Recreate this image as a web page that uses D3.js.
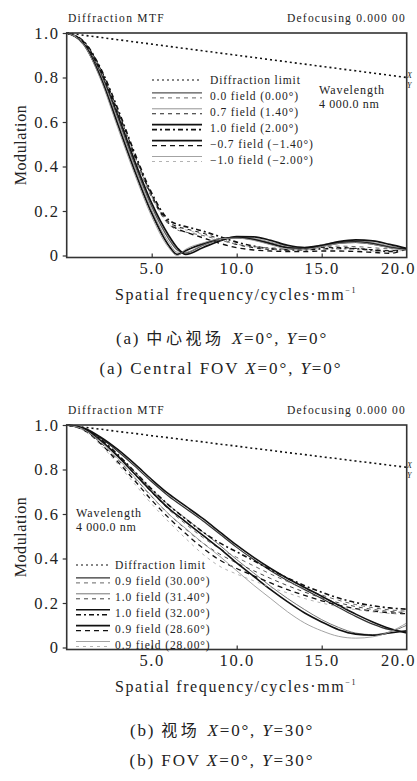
<!DOCTYPE html>
<meta charset="utf-8">
<script src="https://cdn.jsdelivr.net/npm/d3@7"></script>
<style>
body { margin: 0; background: #fff; }
svg text { font-family: "Liberation Serif", "DejaVu Serif", serif; fill: #222; }
.cjk { font-family: "Noto Sans CJK SC", sans-serif; }
.curve { fill: none; }
</style>
<div id="chart"></div>
<script>

// x ticks / y ticks shared by both panels
var xTicks = [5, 10, 15, 20];
var yTicks = [0, 0.2, 0.4, 0.6, 0.8, 1.0];
var yTickLabels = ["0", "0.2", "0.4", "0.6", "0.8", "1.0"];

// ---- panel (a): central FOV ----
var freqA = [0, 1, 2, 3, 4, 5, 6, 6.5, 7, 8, 9, 10, 11, 12, 13, 14, 15, 16, 17, 18, 19, 20];
var diffA = [1.0, 0.99, 0.98, 0.97, 0.96, 0.95, 0.94, 0.935, 0.93, 0.92, 0.91, 0.90, 0.89, 0.88, 0.87, 0.86, 0.85, 0.84, 0.83, 0.82, 0.81, 0.80];
var a_t00  = [1.0, 0.955, 0.82, 0.62, 0.41, 0.22, 0.075, 0.025, 0.012, 0.045, 0.07, 0.08, 0.074, 0.056, 0.038, 0.034, 0.046, 0.06, 0.064, 0.056, 0.04, 0.028];
var a_s00  = [1.0, 0.958, 0.83, 0.64, 0.44, 0.26, 0.14, 0.115, 0.105, 0.09, 0.07, 0.05, 0.04, 0.034, 0.033, 0.036, 0.04, 0.042, 0.04, 0.035, 0.03, 0.032];
var a_t07  = [1.0, 0.952, 0.81, 0.605, 0.395, 0.205, 0.06, 0.015, 0.015, 0.048, 0.072, 0.082, 0.077, 0.06, 0.042, 0.036, 0.048, 0.062, 0.066, 0.058, 0.042, 0.03];
var a_s07  = [1.0, 0.96, 0.835, 0.65, 0.45, 0.27, 0.15, 0.13, 0.12, 0.1, 0.075, 0.05, 0.035, 0.028, 0.028, 0.032, 0.036, 0.036, 0.032, 0.026, 0.022, 0.03];
var a_t10  = [1.0, 0.958, 0.83, 0.635, 0.425, 0.235, 0.09, 0.035, 0.005, 0.035, 0.065, 0.085, 0.084, 0.068, 0.046, 0.036, 0.045, 0.062, 0.07, 0.066, 0.05, 0.032];
var a_s10  = [1.0, 0.962, 0.84, 0.66, 0.46, 0.28, 0.16, 0.14, 0.13, 0.11, 0.085, 0.06, 0.042, 0.03, 0.025, 0.026, 0.03, 0.032, 0.03, 0.024, 0.018, 0.03];
var a_tm07 = [1.0, 0.95, 0.8, 0.59, 0.38, 0.19, 0.045, 0.005, 0.022, 0.052, 0.074, 0.08, 0.072, 0.052, 0.034, 0.03, 0.042, 0.056, 0.06, 0.052, 0.036, 0.026];
var a_sm07 = [1.0, 0.96, 0.835, 0.65, 0.45, 0.27, 0.145, 0.12, 0.105, 0.08, 0.055, 0.035, 0.025, 0.02, 0.018, 0.018, 0.02, 0.02, 0.018, 0.014, 0.01, 0.03];
var a_tm10 = [1.0, 0.948, 0.79, 0.575, 0.365, 0.175, 0.035, 0.0, 0.028, 0.056, 0.075, 0.078, 0.068, 0.048, 0.03, 0.028, 0.04, 0.054, 0.058, 0.05, 0.034, 0.024];
var a_sm10 = [1.0, 0.958, 0.83, 0.645, 0.445, 0.265, 0.145, 0.125, 0.115, 0.095, 0.072, 0.052, 0.038, 0.03, 0.027, 0.028, 0.03, 0.03, 0.026, 0.02, 0.015, 0.028];
var legendA = ["Diffraction limit", "0.0 field (0.00\u00b0)", "0.7 field (1.40\u00b0)", "1.0 field (2.00\u00b0)", "\u22120.7 field (\u22121.40\u00b0)", "\u22121.0 field (\u22122.00\u00b0)"];

// ---- panel (b): FOV Y=30 ----
var freqB = [0, 1, 2, 3, 4, 5, 6, 7, 8, 9, 10, 11, 12, 13, 14, 15, 16, 17, 18, 19, 20];
var diffB = [1.0, 0.99, 0.981, 0.971, 0.962, 0.952, 0.943, 0.933, 0.924, 0.914, 0.905, 0.895, 0.886, 0.876, 0.867, 0.857, 0.848, 0.838, 0.829, 0.819, 0.81];
var b_t30  = [1.0, 0.985, 0.94, 0.882, 0.815, 0.745, 0.68, 0.625, 0.57, 0.51, 0.45, 0.395, 0.345, 0.3, 0.26, 0.22, 0.18, 0.14, 0.105, 0.08, 0.07];
var b_s30  = [1.0, 0.98, 0.928, 0.858, 0.778, 0.696, 0.62, 0.555, 0.495, 0.445, 0.405, 0.367, 0.33, 0.296, 0.264, 0.236, 0.212, 0.193, 0.179, 0.169, 0.163];
var b_t314 = [1.0, 0.982, 0.932, 0.865, 0.79, 0.71, 0.64, 0.58, 0.52, 0.46, 0.395, 0.335, 0.275, 0.22, 0.17, 0.125, 0.09, 0.065, 0.058, 0.07, 0.1];
var b_s314 = [1.0, 0.978, 0.92, 0.845, 0.762, 0.678, 0.6, 0.532, 0.47, 0.42, 0.38, 0.345, 0.31, 0.278, 0.249, 0.223, 0.201, 0.184, 0.171, 0.162, 0.157];
var b_t32  = [1.0, 0.986, 0.945, 0.89, 0.825, 0.755, 0.69, 0.635, 0.58, 0.52, 0.46, 0.405, 0.355, 0.31, 0.27, 0.23, 0.19, 0.15, 0.115, 0.085, 0.065];
var b_s32  = [1.0, 0.982, 0.935, 0.868, 0.79, 0.712, 0.64, 0.578, 0.52, 0.47, 0.43, 0.39, 0.35, 0.312, 0.278, 0.248, 0.222, 0.202, 0.188, 0.178, 0.172];
var b_t286 = [1.0, 0.982, 0.93, 0.86, 0.78, 0.70, 0.625, 0.565, 0.505, 0.445, 0.38, 0.32, 0.26, 0.205, 0.155, 0.115, 0.08, 0.06, 0.055, 0.065, 0.075];
var b_s286 = [1.0, 0.977, 0.916, 0.835, 0.75, 0.662, 0.583, 0.512, 0.447, 0.393, 0.355, 0.322, 0.29, 0.26, 0.234, 0.21, 0.19, 0.175, 0.164, 0.156, 0.152];
var b_t28  = [1.0, 0.98, 0.925, 0.85, 0.765, 0.68, 0.6, 0.535, 0.47, 0.41, 0.345, 0.28, 0.22, 0.16, 0.11, 0.075, 0.05, 0.042, 0.048, 0.07, 0.11];
var b_s28  = [1.0, 0.975, 0.91, 0.825, 0.735, 0.645, 0.565, 0.49, 0.42, 0.365, 0.33, 0.3, 0.27, 0.245, 0.22, 0.2, 0.183, 0.17, 0.16, 0.153, 0.148];
var legendB = ["Diffraction limit", "0.9 field (30.00\u00b0)", "1.0 field (31.40\u00b0)", "1.0 field (32.00\u00b0)", "0.9 field (28.60\u00b0)", "0.9 field (28.00\u00b0)"];

// line styles for each field pair: [tangential solid, sagittal dashed]
var stylesA = [
  [{c: "#555", w: 1.3, d: null}, {c: "#666", w: 1.0, d: "4,4"}],
  [{c: "#888", w: 0.9, d: null}, {c: "#222", w: 1.1, d: "4,4"}],
  [{c: "#111", w: 1.7, d: null}, {c: "#111", w: 1.7, d: "5,3,2,3"}],
  [{c: "#111", w: 1.7, d: null}, {c: "#111", w: 1.4, d: "5,4"}],
  [{c: "#999", w: 0.9, d: null}, {c: "#aaa", w: 0.9, d: "3,4"}]
];
var stylesB = [
  [{c: "#333", w: 1.2, d: null}, {c: "#666", w: 1.0, d: "4,4"}],
  [{c: "#777", w: 1.0, d: null}, {c: "#444", w: 1.0, d: "4,4"}],
  [{c: "#111", w: 1.6, d: null}, {c: "#111", w: 1.6, d: "5,3,2,3"}],
  [{c: "#111", w: 1.6, d: null}, {c: "#111", w: 1.3, d: "5,4"}],
  [{c: "#999", w: 0.9, d: null}, {c: "#aaa", w: 0.9, d: "3,4"}]
];

var W = 417, H = 781;
var svg = d3.select("#chart").append("svg").attr("width", W).attr("height", H);

function drawPanel(top, freq, diff, pairs, styles, legend, cfg) {
  var g = svg.append("g").attr("transform", "translate(0," + top + ")");
  var x = d3.scaleLinear().domain([0, 20]).range([66.7, 406.7]);
  var y = d3.scaleLinear().domain([-0.009, 1.0]).range([257.5, 33]);

  g.append("text").attr("x", 68).attr("y", 22).attr("font-size", 11.5)
    .attr("letter-spacing", 1.3).text("Diffraction MTF");
  g.append("text").attr("x", 406).attr("y", 22).attr("font-size", 11.5)
    .attr("letter-spacing", 1.2).attr("text-anchor", "end").text("Defocusing 0.000 00");

  var line = d3.line().x(function(d) { return x(d[0]); }).y(function(d) { return y(d[1]); })
    .curve(d3.curveMonotoneX);

  // diffraction limit
  g.append("path").attr("class", "curve")
    .datum(freq.map(function(f, i) { return [f, diff[i]]; }))
    .attr("d", line).attr("stroke", "#111").attr("stroke-width", 1.6).attr("stroke-dasharray", "2,3");

  pairs.forEach(function(p, k) {
    p.forEach(function(vals, j) {
      var s = styles[k][j];
      g.append("path").attr("class", "curve")
        .datum(freq.map(function(f, i) { return [f, vals[i]]; }))
        .attr("d", line).attr("stroke", s.c).attr("stroke-width", s.w)
        .attr("stroke-dasharray", s.d);
    });
  });

  // frame
  g.append("rect").attr("x", x(0)).attr("y", y(1.0)).attr("width", x(20) - x(0))
    .attr("height", y(-0.009) - y(1.0)).attr("fill", "none").attr("stroke", "#333").attr("stroke-width", 1.6);

  // y axis
  var ya = g.append("g").attr("transform", "translate(" + x(0) + ",0)")
    .call(d3.axisLeft(y).tickValues(yTicks).tickSize(4).tickPadding(3)
      .tickFormat(function(d, i) { return yTickLabels[i]; }));
  ya.select(".domain").remove();
  ya.selectAll("line").attr("stroke", "#333").attr("stroke-width", 1.2);
  ya.selectAll("text").attr("font-size", 16.5).attr("letter-spacing", 1.6)
    .attr("font-family", "Liberation Serif").attr("fill", "#222");

  // x axis, ticks inside
  var xa = g.append("g").attr("transform", "translate(0," + y(-0.009) + ")")
    .call(d3.axisBottom(x).tickValues(xTicks).tickSizeInner(-4).tickSizeOuter(0).tickPadding(5)
      .tickFormat(d3.format(".1f")));
  xa.select(".domain").remove();
  xa.selectAll("line").attr("stroke", "#333").attr("stroke-width", 1.2);
  var last = xa.selectAll(".tick").filter(function(d) { return d === 20; });
  last.select("line").remove();
  xa.selectAll("text").attr("font-size", 16.5).attr("letter-spacing", 1.6)
    .attr("font-family", "Liberation Serif").attr("fill", "#222");
  last.select("text").attr("text-anchor", "end").attr("x", 9);

  // X / Y marks at right edge
  g.append("text").attr("x", 407).attr("y", y(diff[diff.length - 1]) + 1).attr("font-size", 8)
    .attr("font-style", "italic").text("X");
  g.append("text").attr("x", 407).attr("y", y(diff[diff.length - 1]) + 11).attr("font-size", 8)
    .attr("font-style", "italic").text("Y");

  // axis titles
  var xt = g.append("text").attr("x", 236).attr("y", 300).attr("font-size", 16)
    .attr("letter-spacing", 1.6).attr("text-anchor", "middle");
  xt.append("tspan").text("Spatial frequency/cycles\u00b7mm");
  xt.append("tspan").attr("font-size", 8).attr("dy", -7).text("\u22121");
  g.append("text").attr("transform", "translate(26,145) rotate(-90)").attr("font-size", 16)
    .attr("letter-spacing", 0.6).attr("text-anchor", "middle").text("Modulation");

  // legend
  var lg = g.append("g");
  legend.forEach(function(t, i) {
    var yy = cfg.ly + i * 15.9;
    lg.append("text").attr("x", cfg.lx + 58).attr("y", yy + 4).attr("font-size", 11.5)
      .attr("letter-spacing", 0.9).text(t);
    if (i === 0) {
      lg.append("line").attr("x1", cfg.lx).attr("x2", cfg.lx + cfg.lw).attr("y1", yy).attr("y2", yy)
        .attr("stroke", "#111").attr("stroke-width", 1.2).attr("stroke-dasharray", "2,3");
    } else {
      var st = styles[i - 1];
      lg.append("line").attr("x1", cfg.lx).attr("x2", cfg.lx + cfg.lw).attr("y1", yy - 3).attr("y2", yy - 3)
        .attr("stroke", st[0].c).attr("stroke-width", st[0].w);
      lg.append("line").attr("x1", cfg.lx).attr("x2", cfg.lx + cfg.lw).attr("y1", yy + 2).attr("y2", yy + 2)
        .attr("stroke", st[1].c).attr("stroke-width", st[1].w).attr("stroke-dasharray", st[1].d);
    }
  });
  lg.selectAll("text").attr("dx", cfg.tdx);

  g.append("text").attr("x", cfg.wx).attr("y", cfg.wy).attr("font-size", 12)
    .attr("letter-spacing", 0.9).text("Wavelength");
  g.append("text").attr("x", cfg.wx).attr("y", cfg.wy + 14).attr("font-size", 12)
    .attr("letter-spacing", 0.6).text("4 000.0 nm");

  // captions
  var c1 = g.append("text").attr("y", 344).attr("font-size", 17).attr("text-anchor", "middle")
    .attr("x", cfg.c1x).attr("letter-spacing", 1.8);
  c1.append("tspan").text(cfg.cap1a + " ");
  c1.append("tspan").attr("class", "cjk").attr("font-size", 16).attr("letter-spacing", 3.6).text(cfg.cap1b + " ");
  c1.append("tspan").attr("font-style", "italic").text("X");
  c1.append("tspan").text("=0\u00b0, ");
  c1.append("tspan").attr("font-style", "italic").text("Y");
  c1.append("tspan").text("=" + cfg.yang + "\u00b0");

  var c2 = g.append("text").attr("y", 374).attr("font-size", 17).attr("text-anchor", "middle")
    .attr("x", cfg.c2x).attr("letter-spacing", 1.9);
  c2.append("tspan").text(cfg.cap2 + " ");
  c2.append("tspan").attr("font-style", "italic").text("X");
  c2.append("tspan").text("=0\u00b0, ");
  c2.append("tspan").attr("font-style", "italic").text("Y");
  c2.append("tspan").text("=" + cfg.yang + "\u00b0");
}

drawPanel(0, freqA, diffA,
  [[a_t00, a_s00], [a_t07, a_s07], [a_t10, a_s10], [a_tm07, a_sm07], [a_tm10, a_sm10]],
  stylesA, legendA,
  {lx: 152, lw: 50, tdx: 0, ly: 80, wx: 319, wy: 94, c1x: 222, c2x: 221,
   cap1a: "(a)", cap1b: "\u4e2d\u5fc3\u89c6\u573a", cap2: "(a) Central FOV", yang: "0"});

drawPanel(392, freqB, diffB,
  [[b_t30, b_s30], [b_t314, b_s314], [b_t32, b_s32], [b_t286, b_s286], [b_t28, b_s28]],
  stylesB, legendB,
  {lx: 76, lw: 34, tdx: -19, ly: 173, wx: 76, wy: 125, c1x: 222, c2x: 222,
   cap1a: "(b)", cap1b: "\u89c6\u573a", cap2: "(b) FOV", yang: "30"});

</script>
